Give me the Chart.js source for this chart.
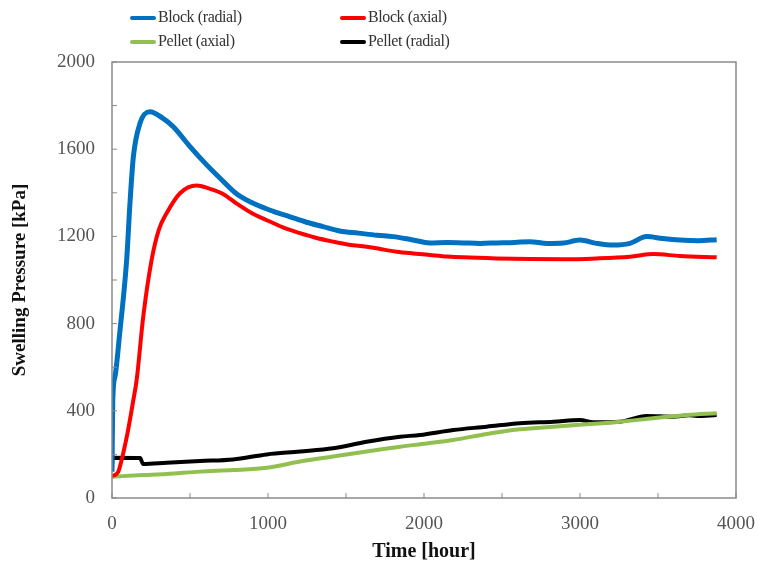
<!DOCTYPE html>
<html>
<head>
<meta charset="utf-8">
<script src="https://cdn.jsdelivr.net/npm/chart.js@4.4.1/dist/chart.umd.min.js"></script>
<style>
  body { margin: 0; background: #fff; }
  #wrap { position: relative; width: 758px; height: 564px; }
  #legend { position: absolute; left: 0; top: 0; width: 758px; height: 60px; font-family: "Liberation Serif", serif; font-size: 16px; color: #333; }
  .item { position: absolute; height: 20px; line-height: 20px; white-space: nowrap; letter-spacing: -0.4px; }
  .item span.line { display: inline-block; width: 26px; height: 4px; vertical-align: middle; margin-right: 2px; border-radius: 2px; }
</style>
</head>
<body>
<div id="wrap">
  <canvas id="swellChart" width="758" height="564"></canvas>
  <div id="legend"></div>
</div>
<script>
// series (time in hours, pressure in kPa)
const blockRadialT = [0, 5, 20, 50, 94, 115, 137, 180, 244, 320, 393, 500, 607, 714, 800, 927, 1034, 1141, 1247, 1353, 1460, 1580, 1700, 1801, 1920, 2038, 2150, 2252, 2360, 2466, 2580, 2679, 2790, 2893, 3000, 3106, 3212, 3320, 3427, 3530, 3641, 3760, 3876];
const blockRadialP = [120, 450, 560, 760, 1092, 1350, 1566, 1720, 1772, 1745, 1703, 1612, 1528, 1452, 1395, 1345, 1315, 1290, 1265, 1245, 1225, 1215, 1205, 1199, 1185, 1170, 1172, 1170, 1168, 1170, 1172, 1176, 1168, 1170, 1183, 1168, 1160, 1168, 1199, 1190, 1183, 1180, 1185];

const blockAxialT = [0, 40, 51, 100, 137, 158, 200, 254, 300, 350, 436, 543, 620, 712, 800, 900, 1000, 1100, 1205, 1300, 1417, 1520, 1632, 1720, 1825, 1930, 2038, 2150, 2252, 2466, 2679, 2893, 3106, 3320, 3470, 3641, 3876];
const blockAxialP = [100, 120, 144, 300, 450, 541, 830, 1092, 1230, 1306, 1398, 1433, 1420, 1395, 1350, 1305, 1272, 1240, 1215, 1195, 1176, 1162, 1153, 1142, 1130, 1122, 1115, 1108, 1104, 1099, 1096, 1095, 1099, 1107, 1119, 1110, 1104];

const pelletAxialT = [0, 200, 350, 564, 776, 992, 1205, 1417, 1632, 1846, 2017, 2188, 2402, 2615, 2829, 3042, 3256, 3470, 3684, 3876];
const pelletAxialP = [98, 105, 110, 121, 128, 139, 167, 190, 213, 235, 250, 266, 294, 315, 327, 338, 350, 366, 381, 389];

const pelletRadialT = [0, 5, 180, 200, 350, 564, 776, 992, 1205, 1417, 1632, 1846, 1974, 2188, 2402, 2615, 2829, 3000, 3085, 3256, 3427, 3596, 3700, 3748, 3876];
const pelletRadialP = [150, 185, 183, 156, 162, 170, 177, 200, 213, 228, 258, 281, 289, 312, 327, 343, 350, 358, 347, 350, 376, 373, 380, 376, 381];

const seriesLabels = ["Block (radial)", "Block (axial)", "Pellet (axial)", "Pellet (radial)"];
const seriesColors = ["#0070C0", "#FF0000", "#92C050", "#000000"];

function pts(t, p) {
  return t.map(function(v, i){ return {x: v, y: p[i]}; });
}

const allSeries = [
  pts(blockRadialT, blockRadialP),
  pts(blockAxialT, blockAxialP),
  pts(pelletAxialT, pelletAxialP),
  pts(pelletRadialT, pelletRadialP)
];
const widths = [5, 4, 4, 4];

// frame around plot + inward tick marks
const frameTicks = {
  id: 'frameTicks',
  afterDatasetsDraw(chart) {
    const ctx = chart.ctx, a = chart.chartArea;
    const xs = chart.scales.x, ys = chart.scales.y;
    ctx.save();
    ctx.strokeStyle = '#8a8a8a';
    ctx.lineWidth = 1.5;
    ctx.strokeRect(a.left, a.top, a.right - a.left, a.bottom - a.top);
    ctx.lineWidth = 1;
    ctx.beginPath();
    xs.ticks.forEach(function(t){
      const px = xs.getPixelForValue(t.value);
      ctx.moveTo(px, a.bottom); ctx.lineTo(px, a.bottom - 5);
    });
    ys.ticks.forEach(function(t){
      const py = ys.getPixelForValue(t.value);
      ctx.moveTo(a.left, py); ctx.lineTo(a.left + 5, py);
    });
    ctx.stroke();
    ctx.restore();
  }
};

const serif = "'Liberation Serif', 'Times New Roman', serif";

const config = {
  type: 'scatter',
  data: {
    datasets: allSeries.map(function(d, i){
      return {
        label: seriesLabels[i],
        data: d,
        showLine: true,
        borderColor: seriesColors[i],
        backgroundColor: seriesColors[i],
        borderWidth: widths[i],
        pointRadius: 0,
        cubicInterpolationMode: 'monotone'
      };
    })
  },
  options: {
    responsive: false,
    animation: false,
    layout: { padding: { top: 62, right: 22, left: 0, bottom: 0 } },
    plugins: { legend: { display: false }, tooltip: { enabled: false } },
    scales: {
      x: {
        type: 'linear', min: 0, max: 4000,
        afterFit: function(s){ s.height = 66; s.paddingRight = 0; s.paddingLeft = 0; },
        grid: { display: false },
        border: { display: false },
        ticks: {
          stepSize: 500, padding: 7, color: '#555',
          font: { family: serif, size: 19 },
          maxRotation: 0,
          callback: function(v){ return v % 1000 === 0 ? v : ''; }
        },
        title: { display: true, text: 'Time [hour]', color: '#111', padding: { top: 0, bottom: 0 },
                 font: { family: serif, size: 20, weight: 'bold' } }
      },
      y: {
        min: 0, max: 2000,
        afterFit: function(s){ s.width = 112; },
        grid: { display: false },
        border: { display: false },
        ticks: {
          stepSize: 200, padding: 9, color: '#555',
          font: { family: serif, size: 19 },
          callback: function(v){ return v % 400 === 0 ? v : ''; }
        },
        title: { display: true, text: 'Swelling Pressure [kPa]', color: '#111', padding: { top: 9, bottom: 4 },
                 font: { family: serif, size: 19, weight: 'bold' } }
      }
    }
  },
  plugins: [frameTicks]
};

var ch1 = new Chart("swellChart", config);

// two-column legend like the original
const legendPos = [[130, 7], [340, 7], [130, 31], [340, 31]];
const legendEl = document.getElementById('legend');
seriesLabels.forEach(function(lbl, i){
  const div = document.createElement('div');
  div.className = 'item';
  div.style.left = legendPos[i][0] + 'px';
  div.style.top = legendPos[i][1] + 'px';
  div.innerHTML = '<span class="line" style="background:' + seriesColors[i] + '"></span>' + lbl;
  legendEl.appendChild(div);
});
</script>
</body>
</html>
